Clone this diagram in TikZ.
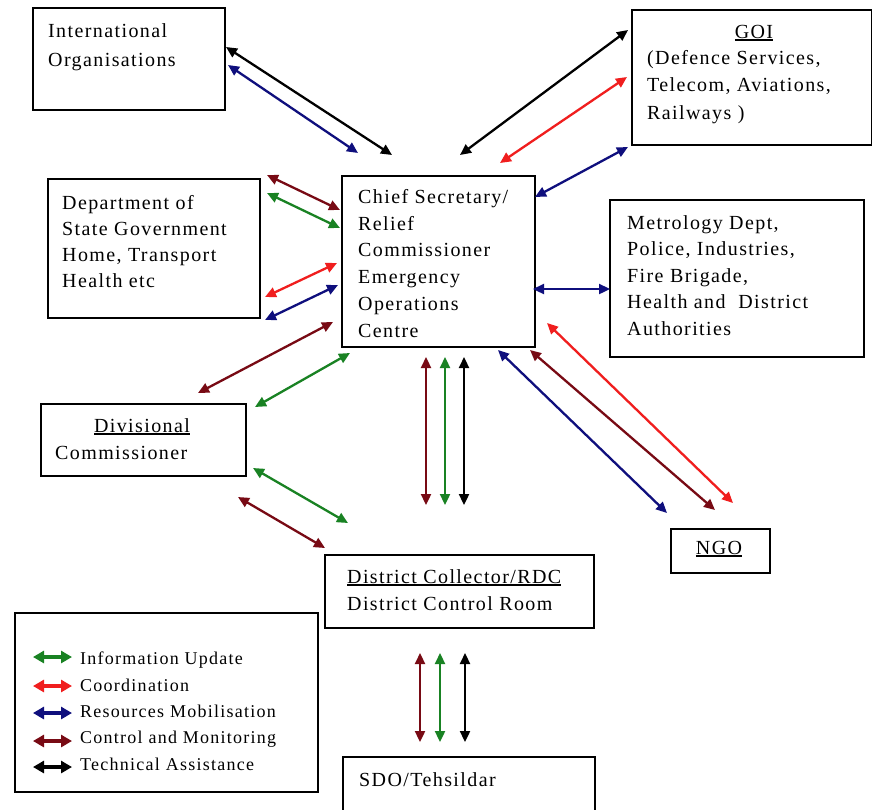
\documentclass[tikz,border=0pt]{standalone}
\usepackage{fontspec}
\setmainfont[LetterSpace=7]{Liberation Serif}
\usetikzlibrary{arrows.meta}
\definecolor{cgreen}{RGB}{25,130,35}
\definecolor{cred}{RGB}{240,30,30}
\definecolor{cblue}{RGB}{15,15,125}
\definecolor{cbrown}{RGB}{120,10,20}
\newcommand\ulin[1]{\setbox0\hbox{#1}\rlap{\rule[-3pt]{\wd0}{1.6pt}}\box0}
\begin{document}
\begin{tikzpicture}[x=1pt,y=-1pt,
  box/.style={draw=black, line width=1.7pt, anchor=north west, inner sep=0pt},
  txt/.style={inner sep=0pt, anchor=north west, align=left},
  fnt/.style={font=\fontsize{20}{#1}\selectfont},
  one/.style={inner sep=0pt, font=\fontsize{20}{24}\selectfont},
  conn/.style={line width=2.3pt, arrows={Triangle[length=11pt,width=10pt]-Triangle[length=11pt,width=10pt]}},
  leg/.style={line width=3.5pt, arrows={Triangle[length=11pt,width=12pt]-Triangle[length=11pt,width=12pt]}}]
\fill[white] (0,0) rectangle (872,809);
\useasboundingbox (0,0) rectangle (872,809);

% boxes
\node[box, minimum width=192pt, minimum height=102pt] (intl) at (32,7) {};
\node[box, minimum width=240pt, minimum height=135pt] (goi) at (631,9) {};
\node[box, minimum width=212pt, minimum height=139pt] (dept) at (47,178) {};
\node[box, minimum width=193pt, minimum height=171pt] (chief) at (341,175) {};
\node[box, minimum width=254pt, minimum height=157pt] (metro) at (609,199) {};
\node[box, minimum width=205pt, minimum height=72pt] (div) at (40,403) {};
\node[box, minimum width=269pt, minimum height=73pt] (dist) at (324,554) {};
\node[box, minimum width=99pt, minimum height=44pt] (ngo) at (670,528) {};
\node[box, minimum width=303pt, minimum height=179pt] (legend) at (14,612) {};
\node[box, minimum width=252pt, minimum height=70pt] (sdo) at (342,756) {};

% texts
\node[txt, fnt=29] (tintl) at (48,23) {International\\Organisations};
\node[one, anchor=base] (tgoi) at (754,38) {\ulin{GOI}};
\node[txt, fnt=27.5] (tgoi2) at (647,50) {(Defence Services,\\Telecom, Aviations,\\Railways )};
\node[txt, fnt=26] (tdept) at (62,195) {Department of\\State Government\\Home, Transport\\Health etc};
\node[txt, fnt=26.8] (tchief) at (358,189) {Chief Secretary/\\Relief\\Commissioner\\Emergency\\Operations\\Centre};
\node[txt, fnt=26.5] (tmetro) at (627,215) {Metrology Dept,\\Police, Industries,\\Fire Brigade,\\Health and~ District\\Authorities};
\node[one, anchor=base] (tdiv) at (142,432) {\ulin{Divisional}};
\node[one, anchor=base west] (tdiv2) at (55,459) {Commissioner};
\node[one, anchor=base west] (tdist) at (347,583) {\ulin{District Collector/RDC}};
\node[one, anchor=base west] (tdist2) at (347,610) {District Control Room};
\node[one, anchor=base] (tngo) at (719,554) {\ulin{NGO}};
\node[one, anchor=base west] (tsdo) at (359,786) {SDO/Tehsildar};
\node[txt, font=\fontsize{18}{26.3}\selectfont] (tleg) at (80,652) {Information Update\\Coordination\\Resources Mobilisation\\Control and Monitoring\\Technical Assistance};

% connector end points
\coordinate (a1) at (226,47);  \coordinate (b1) at (392,155);
\coordinate (a2) at (228,65);  \coordinate (b2) at (358,153);
\coordinate (a3) at (460,155); \coordinate (b3) at (628,30);
\coordinate (a4) at (500,163); \coordinate (b4) at (627,77);
\coordinate (a5) at (535,197); \coordinate (b5) at (628,147);
\coordinate (a6) at (267,175); \coordinate (b6) at (340,210);
\coordinate (a7) at (267,193); \coordinate (b7) at (340,228);
\coordinate (a8) at (265,297); \coordinate (b8) at (337,263);
\coordinate (a9) at (265,320); \coordinate (b9) at (338,285);
\coordinate (a10) at (198,393); \coordinate (b10) at (333,322);
\coordinate (a11) at (255,407); \coordinate (b11) at (350,353);
\coordinate (a12) at (533,289); \coordinate (b12) at (610,289);
\coordinate (a13) at (426,357); \coordinate (b13) at (426,505);
\coordinate (a14) at (445,357); \coordinate (b14) at (445,505);
\coordinate (a15) at (464,357); \coordinate (b15) at (464,505);
\coordinate (a16) at (498,350); \coordinate (b16) at (667,513);
\coordinate (a17) at (530,350); \coordinate (b17) at (715,510);
\coordinate (a18) at (547,323); \coordinate (b18) at (733,503);
\coordinate (a19) at (253,468); \coordinate (b19) at (348,523);
\coordinate (a20) at (238,497); \coordinate (b20) at (325,548);
\coordinate (a21) at (420,653); \coordinate (b21) at (420,742);
\coordinate (a22) at (440,653); \coordinate (b22) at (440,742);
\coordinate (a23) at (465,653); \coordinate (b23) at (465,742);

\draw[conn, black] (a1) -- (b1);
\draw[conn, cblue] (a2) -- (b2);
\draw[conn, black] (a3) -- (b3);
\draw[conn, cred] (a4) -- (b4);
\draw[conn, cblue] (a5) -- (b5);
\draw[conn, cbrown] (a6) -- (b6);
\draw[conn, cgreen] (a7) -- (b7);
\draw[conn, cred] (a8) -- (b8);
\draw[conn, cblue] (a9) -- (b9);
\draw[conn, cbrown] (a10) -- (b10);
\draw[conn, cgreen] (a11) -- (b11);
\draw[conn, cblue] (a12) -- (b12);
\draw[conn, cbrown] (a13) -- (b13);
\draw[conn, cgreen] (a14) -- (b14);
\draw[conn, black] (a15) -- (b15);
\draw[conn, cblue] (a16) -- (b16);
\draw[conn, cbrown] (a17) -- (b17);
\draw[conn, cred] (a18) -- (b18);
\draw[conn, cgreen] (a19) -- (b19);
\draw[conn, cbrown] (a20) -- (b20);
\draw[conn, cbrown] (a21) -- (b21);
\draw[conn, cgreen] (a22) -- (b22);
\draw[conn, black] (a23) -- (b23);

% legend arrows
\coordinate (l1a) at (33,657); \coordinate (l1b) at (72,657);
\coordinate (l2a) at (33,686); \coordinate (l2b) at (72,686);
\coordinate (l3a) at (33,713); \coordinate (l3b) at (72,713);
\coordinate (l4a) at (33,741); \coordinate (l4b) at (72,741);
\coordinate (l5a) at (33,767); \coordinate (l5b) at (72,767);
\draw[leg, cgreen] (l1a) -- (l1b);
\draw[leg, cred] (l2a) -- (l2b);
\draw[leg, cblue] (l3a) -- (l3b);
\draw[leg, cbrown] (l4a) -- (l4b);
\draw[leg, black] (l5a) -- (l5b);
\end{tikzpicture}
\end{document}
